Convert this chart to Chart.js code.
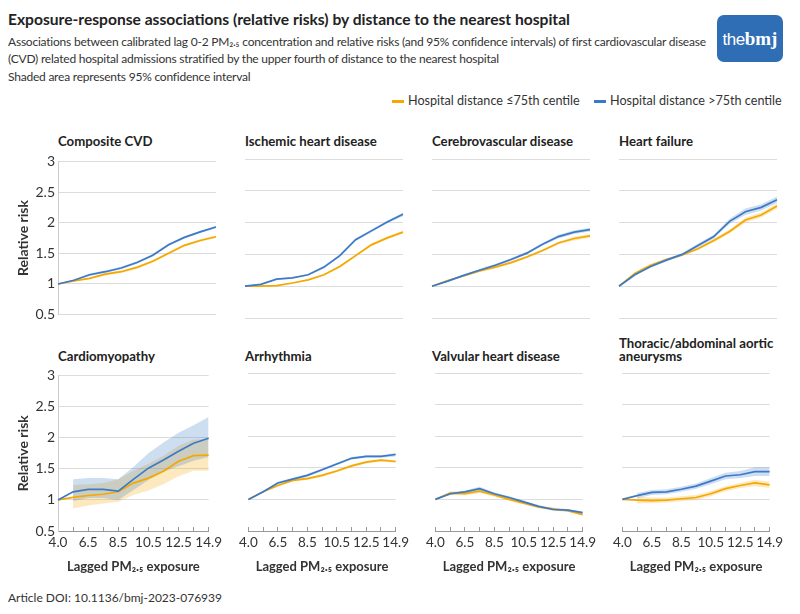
<!DOCTYPE html>
<html>
<head>
<meta charset="utf-8">
<script src="https://cdn.jsdelivr.net/npm/chart.js@4"></script>
<style>
  body { margin: 0; width: 800px; height: 614px; background: #fff; font-family: Lato, "Noto Sans", sans-serif; color: #333; position: relative; overflow: hidden; }
  .abs { position: absolute; }
  #title { left: 8px; top: 10px; font-size: 15.6px; font-weight: bold; color: #222; }
  .sub { left: 8px; font-size: 12px; letter-spacing: -0.22px; color: #333; white-space: nowrap; }
  .ptitle { font-size: 13.2px; font-weight: bold; color: #222; line-height: 14px; }
  .legend { top: 93px; font-size: 12.6px; color: #333; }
  .legend span.sw { display: inline-block; width: 12px; height: 3px; vertical-align: middle; margin-right: 4px; }
  #logo { left: 717px; top: 15px; width: 66px; height: 47px; background: #2f6db5; border-radius: 7px; color: #fff; text-align: center; line-height: 47px; white-space: nowrap; }
  #doi { left: 8px; top: 590px; font-size: 12px; }
  canvas { position: absolute; }
</style>
</head>
<body>
<div id="title" class="abs">Exposure-response associations (relative risks) by distance to the nearest hospital</div>
<div class="abs sub" style="top:34px">Associations between calibrated lag 0-2 PM₂.₅ concentration and relative risks (and 95% confidence intervals) of first cardiovascular disease</div>
<div class="abs sub" style="top:51px">(CVD) related hospital admissions stratified by the upper fourth of distance to the nearest hospital</div>
<div class="abs sub" style="top:69px">Shaded area represents 95% confidence interval</div>
<div class="abs legend" style="left:392px"><span class="sw" style="background:#f5a800"></span>Hospital distance ≤75th centile</div>
<div class="abs legend" style="left:594px"><span class="sw" style="background:#3c7ac8"></span>Hospital distance &gt;75th centile</div>
<div id="logo" class="abs"><span style="font-family:'Liberation Sans';font-size:17px;letter-spacing:-0.5px">the</span><span style="font-family:'Liberation Serif';font-weight:bold;font-size:19px">bmj</span></div>
<div id="doi" class="abs">Article DOI: 10.1136/bmj-2023-076939</div>
<div id="panels"></div>

<script>
// x categories (only some labels shown)
const exposure = ['4.0', '5.5', '6.5', '7.5', '8.5', '9.5', '10.5', '11.5', '12.5', '13.5', '14.9'];
const shownTicks = ['4.0', '6.5', '8.5', '10.5', '12.5', '14.9'];

// Composite CVD
const cvdNear   = [1, 1.05, 1.09, 1.16, 1.20, 1.27, 1.37, 1.50, 1.63, 1.71, 1.77];
const cvdNearLo = [1, 1.04, 1.08, 1.14, 1.18, 1.25, 1.35, 1.48, 1.61, 1.69, 1.75];
const cvdNearHi = [1, 1.06, 1.10, 1.18, 1.22, 1.29, 1.39, 1.52, 1.65, 1.73, 1.79];
const cvdFar    = [1, 1.06, 1.15, 1.20, 1.26, 1.35, 1.47, 1.64, 1.76, 1.85, 1.93];
const cvdFarLo  = [1, 1.05, 1.13, 1.18, 1.24, 1.33, 1.45, 1.62, 1.74, 1.83, 1.91];
const cvdFarHi  = [1, 1.07, 1.17, 1.22, 1.28, 1.37, 1.49, 1.66, 1.78, 1.87, 1.95];

// Ischemic heart disease
const ihdNear   = [1, 1.00, 1.01, 1.05, 1.10, 1.18, 1.31, 1.48, 1.65, 1.76, 1.85];
const ihdNearLo = [1, 0.99, 1.00, 1.04, 1.09, 1.17, 1.29, 1.46, 1.63, 1.74, 1.83];
const ihdNearHi = [1, 1.01, 1.02, 1.06, 1.11, 1.19, 1.33, 1.50, 1.67, 1.78, 1.87];
const ihdFar    = [1, 1.03, 1.11, 1.13, 1.18, 1.30, 1.48, 1.73, 1.87, 2.01, 2.13];
const ihdFarLo  = [1, 1.02, 1.10, 1.12, 1.17, 1.28, 1.46, 1.71, 1.85, 1.99, 2.10];
const ihdFarHi  = [1, 1.04, 1.12, 1.14, 1.19, 1.32, 1.50, 1.75, 1.89, 2.03, 2.16];

// Cerebrovascular disease
const cbvNear   = [1, 1.09, 1.16, 1.24, 1.30, 1.37, 1.46, 1.56, 1.68, 1.75, 1.79];
const cbvNearLo = [1, 1.08, 1.15, 1.22, 1.28, 1.35, 1.44, 1.54, 1.66, 1.72, 1.76];
const cbvNearHi = [1, 1.10, 1.17, 1.26, 1.32, 1.39, 1.48, 1.58, 1.70, 1.78, 1.82];
const cbvFar    = [1, 1.08, 1.17, 1.25, 1.33, 1.42, 1.52, 1.66, 1.78, 1.85, 1.89];
const cbvFarLo  = [1, 1.07, 1.16, 1.23, 1.31, 1.40, 1.50, 1.64, 1.75, 1.82, 1.86];
const cbvFarHi  = [1, 1.09, 1.18, 1.27, 1.35, 1.44, 1.54, 1.68, 1.81, 1.88, 1.92];

// Heart failure
const hfNear   = [1, 1.20, 1.33, 1.42, 1.49, 1.59, 1.72, 1.86, 2.04, 2.12, 2.26];
const hfNearLo = [1, 1.18, 1.31, 1.40, 1.47, 1.57, 1.69, 1.83, 2.00, 2.08, 2.22];
const hfNearHi = [1, 1.22, 1.35, 1.44, 1.51, 1.61, 1.75, 1.89, 2.08, 2.16, 2.30];
const hfFar    = [1, 1.18, 1.31, 1.41, 1.50, 1.64, 1.78, 2.02, 2.17, 2.24, 2.36];
const hfFarLo  = [1, 1.16, 1.29, 1.39, 1.48, 1.61, 1.75, 1.98, 2.12, 2.19, 2.31];
const hfFarHi  = [1, 1.20, 1.33, 1.43, 1.52, 1.67, 1.81, 2.06, 2.22, 2.29, 2.41];

// Cardiomyopathy
const cmNear   = [1, 1.04, 1.07, 1.09, 1.13, 1.27, 1.35, 1.46, 1.62, 1.71, 1.72];
const cmNearLo = [null, 0.86, 0.91, 0.94, 0.97, 1.08, 1.15, 1.25, 1.38, 1.47, 1.47];
const cmNearHi = [null, 1.24, 1.25, 1.27, 1.33, 1.47, 1.58, 1.71, 1.87, 1.97, 1.98];
const cmFar    = [1, 1.13, 1.17, 1.17, 1.14, 1.33, 1.51, 1.64, 1.78, 1.91, 1.99];
const cmFarLo  = [null, 0.98, 1.03, 1.03, 1.00, 1.16, 1.32, 1.45, 1.54, 1.63, 1.69];
const cmFarHi  = [null, 1.33, 1.35, 1.35, 1.33, 1.53, 1.75, 1.92, 2.08, 2.20, 2.33];

// Arrhythmia
const arNear   = [1, 1.12, 1.22, 1.30, 1.33, 1.38, 1.45, 1.53, 1.59, 1.62, 1.60];
const arNearLo = [1, 1.11, 1.21, 1.28, 1.31, 1.36, 1.43, 1.51, 1.57, 1.60, 1.58];
const arNearHi = [1, 1.13, 1.23, 1.32, 1.35, 1.40, 1.47, 1.55, 1.61, 1.64, 1.62];
const arFar    = [1, 1.12, 1.26, 1.32, 1.38, 1.47, 1.56, 1.65, 1.68, 1.68, 1.71];
const arFarLo  = [1, 1.11, 1.24, 1.30, 1.36, 1.45, 1.54, 1.63, 1.66, 1.66, 1.68];
const arFarHi  = [1, 1.13, 1.28, 1.34, 1.40, 1.49, 1.58, 1.67, 1.70, 1.70, 1.74];

// Valvular heart disease
const vhNear   = [1, 1.10, 1.09, 1.13, 1.07, 1.00, 0.94, 0.88, 0.85, 0.82, 0.76];
const vhNearLo = [1, 1.07, 1.06, 1.10, 1.04, 0.98, 0.92, 0.86, 0.83, 0.80, 0.74];
const vhNearHi = [1, 1.13, 1.12, 1.16, 1.10, 1.02, 0.96, 0.90, 0.87, 0.84, 0.78];
const vhFar    = [1, 1.09, 1.12, 1.17, 1.09, 1.03, 0.96, 0.89, 0.84, 0.83, 0.79];
const vhFarLo  = [1, 1.07, 1.10, 1.14, 1.07, 1.01, 0.94, 0.87, 0.82, 0.81, 0.77];
const vhFarHi  = [1, 1.11, 1.14, 1.20, 1.11, 1.05, 0.98, 0.91, 0.86, 0.85, 0.81];

// Thoracic/abdominal aortic aneurysms
const taNear   = [1, 0.99, 0.98, 0.99, 1.01, 1.03, 1.09, 1.17, 1.22, 1.26, 1.23];
const taNearLo = [null, 0.94, 0.94, 0.95, 0.97, 0.99, 1.05, 1.13, 1.18, 1.21, 1.18];
const taNearHi = [null, 1.04, 1.03, 1.03, 1.05, 1.07, 1.13, 1.21, 1.26, 1.31, 1.28];
const taFar    = [1, 1.06, 1.11, 1.12, 1.16, 1.21, 1.29, 1.37, 1.39, 1.44, 1.44];
const taFarLo  = [null, 1.02, 1.07, 1.08, 1.12, 1.17, 1.24, 1.32, 1.34, 1.37, 1.37];
const taFarHi  = [null, 1.10, 1.15, 1.16, 1.20, 1.25, 1.34, 1.42, 1.45, 1.51, 1.51];

const panels = [
  { title: ['Composite CVD'], near: cvdNear, nearLo: cvdNearLo, nearHi: cvdNearHi, far: cvdFar, farLo: cvdFarLo, farHi: cvdFarHi },
  { title: ['Ischemic heart disease'], near: ihdNear, nearLo: ihdNearLo, nearHi: ihdNearHi, far: ihdFar, farLo: ihdFarLo, farHi: ihdFarHi },
  { title: ['Cerebrovascular disease'], near: cbvNear, nearLo: cbvNearLo, nearHi: cbvNearHi, far: cbvFar, farLo: cbvFarLo, farHi: cbvFarHi },
  { title: ['Heart failure'], near: hfNear, nearLo: hfNearLo, nearHi: hfNearHi, far: hfFar, farLo: hfFarLo, farHi: hfFarHi },
  { title: ['Cardiomyopathy'], near: cmNear, nearLo: cmNearLo, nearHi: cmNearHi, far: cmFar, farLo: cmFarLo, farHi: cmFarHi },
  { title: ['Arrhythmia'], near: arNear, nearLo: arNearLo, nearHi: arNearHi, far: arFar, farLo: arFarLo, farHi: arFarHi },
  { title: ['Valvular heart disease'], near: vhNear, nearLo: vhNearLo, nearHi: vhNearHi, far: vhFar, farLo: vhFarLo, farHi: vhFarHi },
  { title: ['Thoracic/abdominal aortic', 'aneurysms'], near: taNear, nearLo: taNearLo, nearHi: taNearHi, far: taFar, farLo: taFarLo, farHi: taFarHi }
];

const ORANGE = '#f5a800', BLUE = '#3c7ac8';
const ORANGE_BAND = 'rgba(245,168,0,0.25)', BLUE_BAND = 'rgba(60,122,200,0.25)';
const FONT = 'Lato, "Noto Sans", sans-serif';

const plotLefts = [58, 245, 432, 619];
const plotW = 158;

function band(data, color, fill, order) {
  return { data, borderWidth: 0, pointRadius: 0, backgroundColor: color, fill, order, spanGaps: false };
}
function line(data, color, order) {
  return { data, borderColor: color, borderWidth: 1.7, pointRadius: 0, fill: false, order, tension: 0 };
}

const holder = document.getElementById('panels');
panels.forEach((p, i) => {
  const col = i % 4, row = Math.floor(i / 4);
  const first = col === 0, bottom = row === 1;
  const canvas = document.createElement('canvas');
  const w = first ? 58 + plotW + 14 : plotW + 28;
  const h = bottom ? 213 : 176;
  canvas.width = w; canvas.height = h;
  canvas.style.left = (first ? 0 : plotLefts[col] - 14) + 'px';
  canvas.style.top = (bottom ? 364 : 150) + 'px';
  holder.appendChild(canvas);

  // panel title
  p.title.forEach((t, k) => {
    const d = document.createElement('div');
    d.className = 'abs ptitle';
    d.textContent = t;
    d.style.left = plotLefts[col] + 'px';
    const baseTop = bottom ? 349 : 134;
    d.style.top = (baseTop - (p.title.length - 1 - k) * 13) + 'px';
    document.body.appendChild(d);
  });

  new Chart(canvas, {
    type: 'line',
    data: {
      labels: exposure,
      datasets: [
        band(p.nearHi, ORANGE_BAND, '+1', 4),
        band(p.nearLo, 'transparent', false, 4),
        band(p.farHi, BLUE_BAND, '+1', 3),
        band(p.farLo, 'transparent', false, 3),
        line(p.near, ORANGE, 1),
        line(p.far, BLUE, 0)
      ]
    },
    options: {
      responsive: false,
      animation: false,
      layout: { padding: { left: first ? 0 : 14, right: 14, top: 9, bottom: bottom ? 2 : 8 } },
      plugins: { legend: { display: false }, tooltip: { enabled: false } },
      scales: {
        x: {
          display: bottom,
          grid: { display: true, drawOnChartArea: false, tickLength: -4, color: '#999' },
          border: { display: true, color: '#999' },
          ticks: {
            autoSkip: false, maxRotation: 0, padding: 8, color: '#333',
            font: { family: FONT, size: 13.5 },
            callback: function (v) { const l = this.getLabelForValue(v); return shownTicks.includes(l) ? l : ''; }
          },
          title: { display: true, text: 'Lagged PM₂.₅ exposure', color: '#333', font: { family: FONT, size: 13, weight: 'bold' }, padding: { top: 0, bottom: 0 } },
          afterFit: s => { s.height = bottom ? 44 : 0; }
        },
        y: {
          min: 0.5, max: 3,
          ticks: { display: first, stepSize: 0.5, color: '#333', padding: 3, font: { family: FONT, size: 14 },
            callback: v => String(+v.toFixed(1)) },
          grid: { color: '#dcdcdc', drawTicks: false },
          border: { display: first, color: '#ccc' },
          title: { display: first, text: 'Relative risk', color: '#333', font: { family: FONT, size: 14, weight: 'bold' }, padding: { top: 15, bottom: 0 } },
          afterFit: s => { s.width = first ? 58 : 0; }
        }
      }
    }
  });
});
</script>
</body>
</html>
